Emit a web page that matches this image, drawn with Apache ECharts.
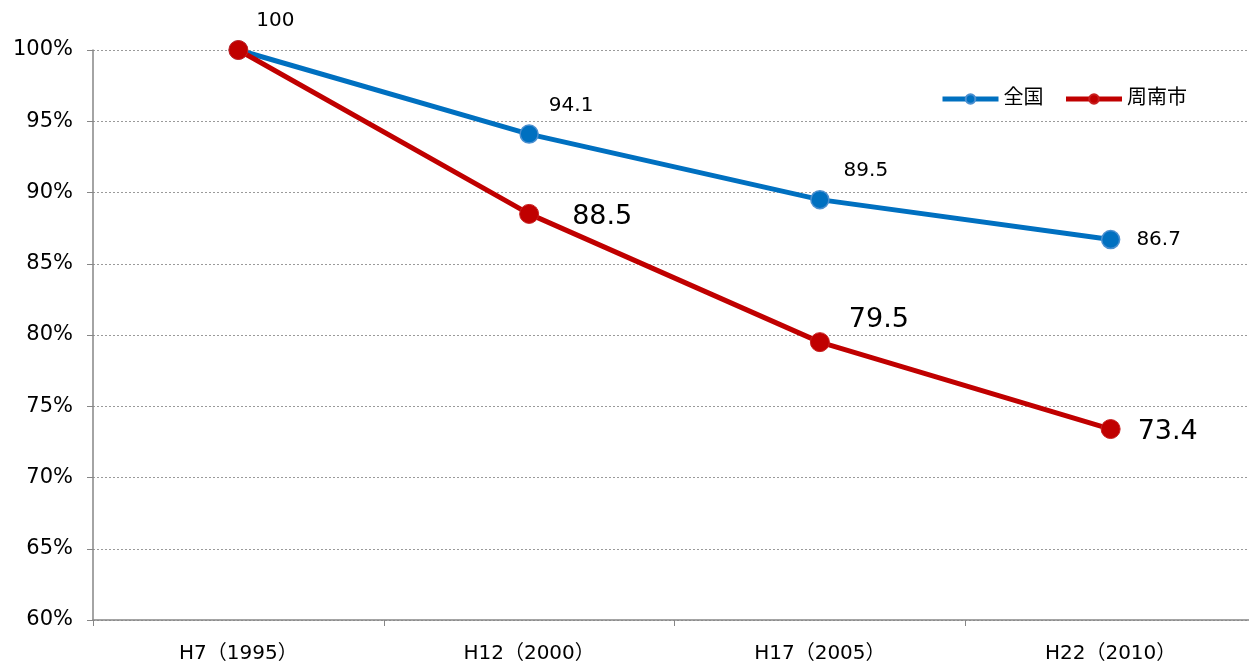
<!DOCTYPE html>
<html>
<head>
<meta charset="utf-8">
<script src="https://cdn.jsdelivr.net/npm/echarts@6/dist/echarts.min.js"></script>
<style>
html,body{margin:0;padding:0;background:#fff;overflow:hidden;width:1249px;height:666px;}
/* the plot area runs slightly past the right edge of the page */
#chart{width:1256px;height:666px;}
</style>
</head>
<body>
<div id="chart"></div>
<script>
// Population index (H7 = 100)
const categories = ['H7（1995）', 'H12（2000）', 'H17（2005）', 'H22（2010）'];
const seriesNames = ['全国', '周南市'];
const national = [100, 94.1, 89.5, 86.7];
const shunan = [100, 88.5, 79.5, 73.4];

const FONT = '"DejaVu Sans", Verdana, "Noto Sans CJK JP", sans-serif';
const BLUE = '#0070C0';
const RED = '#C00000';

// label placement per point for each series
const nationalLabelPos = [
  { position: 'top', offset: [37, -4] },
  { position: 'top', offset: [42, -4] },
  { position: 'top', offset: [46, -4] },
  { position: 'right', offset: [11, 0] }
];
const shunanLabelPos = [
  { show: false },
  { position: 'right', offset: [28, 3] },
  { position: 'top', offset: [59, 6] },
  { position: 'right', offset: [12, 3] }
];

const chart = echarts.init(document.getElementById('chart'));
chart.setOption({
  animation: false,
  textStyle: { fontFamily: FONT },
  grid: { left: 93, right: 0, top: 50, bottom: 46, containLabel: false },
  legend: {
    data: seriesNames,
    right: 64,
    top: 84,
    itemWidth: 56,
    itemHeight: 12,
    itemGap: 20,
    textStyle: { fontSize: 20, color: '#000', fontFamily: FONT },
    lineStyle: { width: 5 }
  },
  xAxis: {
    type: 'category',
    data: categories,
    boundaryGap: true,
    axisLine: { lineStyle: { color: '#868686', width: 1.5 } },
    axisTick: { show: true, length: 6, lineStyle: { color: '#868686' } },
    axisLabel: { color: '#000', fontSize: 20, margin: 24, fontFamily: FONT }
  },
  yAxis: {
    type: 'value',
    min: 60,
    max: 100,
    interval: 5,
    axisLine: { show: true, lineStyle: { color: '#868686', width: 1.5 } },
    axisTick: { show: true, length: 6, lineStyle: { color: '#868686' } },
    axisLabel: { color: '#000', fontSize: 21, margin: 20, formatter: '{value}%', fontFamily: FONT },
    splitLine: { lineStyle: { color: '#9a9a9a', type: [2, 2], width: 1 } }
  },
  series: [
    {
      name: seriesNames[0],
      type: 'line',
      data: national.map((v, i) => ({ value: v, label: nationalLabelPos[i] })),
      symbol: 'circle',
      symbolSize: 18,
      z: 2,
      lineStyle: { color: BLUE, width: 5 },
      itemStyle: { color: BLUE, borderColor: '#4a8fd0', borderWidth: 1.5 },
      label: { show: true, fontSize: 20, color: '#000', fontFamily: FONT }
    },
    {
      name: seriesNames[1],
      type: 'line',
      data: shunan.map((v, i) => ({ value: v, label: shunanLabelPos[i] })),
      symbol: 'circle',
      symbolSize: 19,
      z: 3,
      lineStyle: { color: RED, width: 5 },
      itemStyle: { color: RED, borderColor: '#c82020', borderWidth: 1 },
      label: { show: true, fontSize: 27, color: '#000', fontFamily: FONT }
    }
  ]
});
</script>
</body>
</html>
